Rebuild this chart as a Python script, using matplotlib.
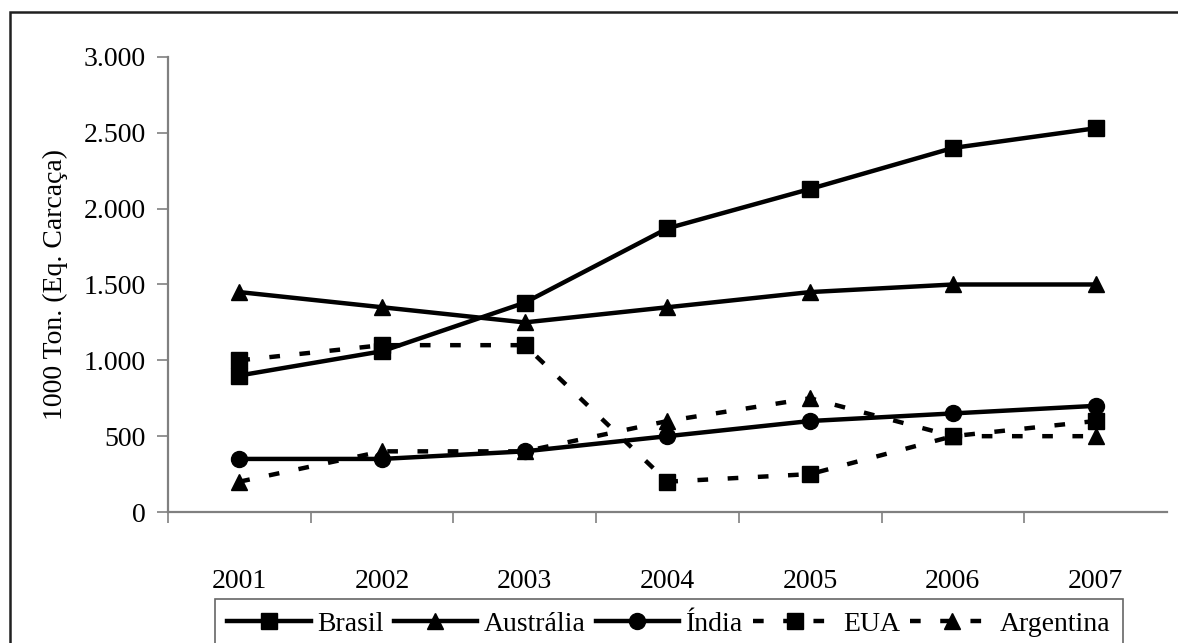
import matplotlib
matplotlib.use("agg")
import matplotlib.pyplot as plt
from matplotlib.patches import Rectangle
from matplotlib.ticker import FuncFormatter, FixedLocator

years = ["2001", "2002", "2003", "2004", "2005", "2006", "2007"]
brasil = [900, 1060, 1380, 1870, 2130, 2400, 2530]
australia = [1450, 1350, 1250, 1350, 1450, 1500, 1500]
india = [350, 350, 400, 500, 600, 650, 700]
eua = [1000, 1100, 1100, 200, 250, 500, 600]
argentina = [200, 400, 400, 600, 750, 500, 500]

plt.rcParams["font.family"] = ["Liberation Serif", "DejaVu Serif"]
plt.rcParams["font.size"] = 20

fig = plt.figure(figsize=(11.78, 6.43), dpi=100)
ax = fig.add_axes([0.1426, 0.2037, 0.848, 0.7077])

x = list(range(1, len(years) + 1))
lw = 3.2
dash = (0, (2.4, 4.4))
series = [
    ("Brasil", brasil, "-", "s", 11),
    ("Austrália", australia, "-", "^", 11),
    ("Índia", india, "-", "o", 11.5),
    ("EUA", eua, dash, "s", 11),
    ("Argentina", argentina, dash, "^", 11),
]
for name, vals, ls, mk, ms in series:
    ax.plot(x, vals, color="black", linestyle=ls, linewidth=lw,
            marker=mk, markersize=ms, label=name, clip_on=False)

ax.set_xlim(0.5, len(years) + 0.5)
ax.set_ylim(0, 3000)
ax.set_yticks([0, 500, 1000, 1500, 2000, 2500, 3000])
ax.yaxis.set_major_formatter(
    FuncFormatter(lambda v, p: f"{int(v):,}".replace(",", ".")))
ax.set_xticks(x)
ax.set_xticklabels(years)
ax.xaxis.set_minor_locator(FixedLocator([i + 0.5 for i in range(len(years))]))
ax.tick_params(axis="x", which="major", length=0, pad=41)
ax.tick_params(axis="x", which="minor", length=8, width=1.2, color="#808080",
               direction="out")
ax.tick_params(axis="y", length=8, width=1.2, color="#808080", pad=8,
               direction="out")
ax.set_ylabel("1000 Ton. (Eq. Carcaça)", labelpad=11)

for side in ["top", "right"]:
    ax.spines[side].set_visible(False)
for side in ["left", "bottom"]:
    ax.spines[side].set_color("#808080")
    ax.spines[side].set_linewidth(1.6)

leg = fig.legend(loc="upper center", bbox_to_anchor=(669 / 1178, 1 - 599 / 643),
                 ncol=5, frameon=True, fancybox=False,
                 handlelength=3.0, handletextpad=0.25, columnspacing=0.35,
                 borderpad=0.45, borderaxespad=0)
leg.get_frame().set_edgecolor("#404040")
leg.get_frame().set_linewidth(1.2)

# outer frame
fig.patches.append(Rectangle((10 / 1178, -0.05), 1.2, 1 - 12 / 643 + 0.05,
                             transform=fig.transFigure, fill=False,
                             edgecolor="#202020", linewidth=1.8))

fig.savefig("out.png", dpi=100)
